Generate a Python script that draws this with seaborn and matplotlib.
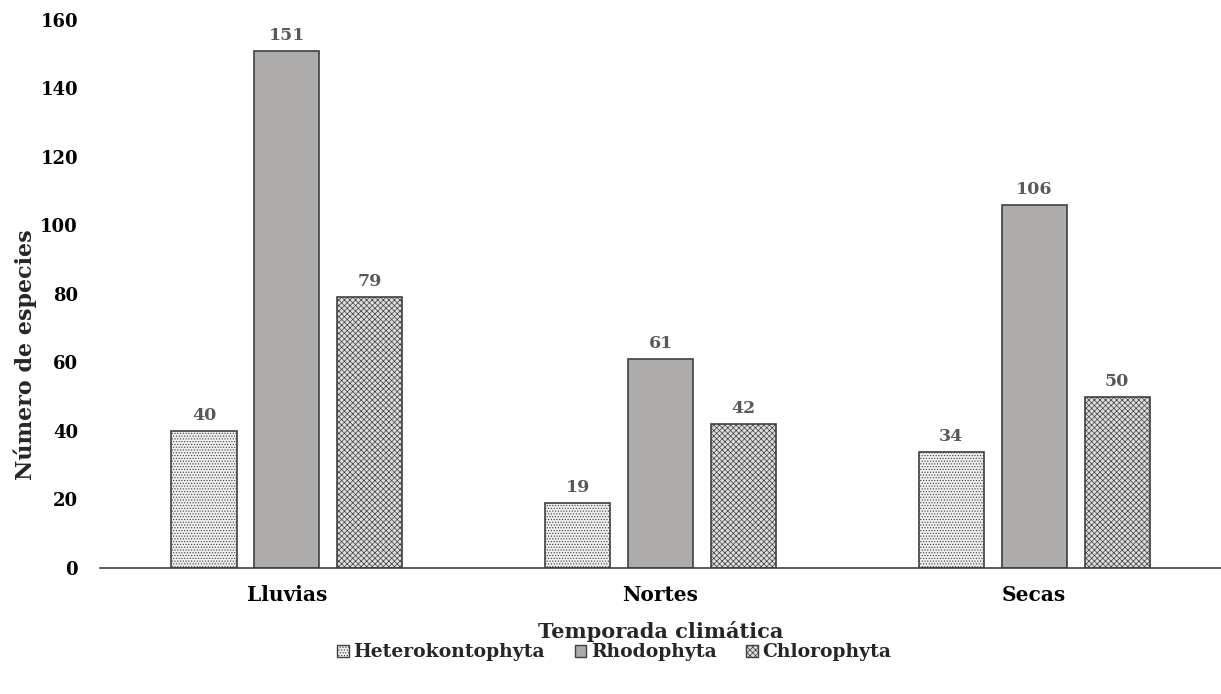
import matplotlib
matplotlib.use("Agg")
import matplotlib.pyplot as plt
import seaborn as sns
import pandas as pd

# Species counts per climatic season and algal division
seasons = ["Lluvias", "Nortes", "Secas"]
divisions = ["Heterokontophyta", "Rhodophyta", "Chlorophyta"]
heterokontophyta = [40, 19, 34]
rhodophyta = [151, 61, 106]
chlorophyta = [79, 42, 50]
y_ticks = [0, 20, 40, 60, 80, 100, 120, 140, 160]

df = pd.DataFrame({
    "Temporada": seasons * 3,
    "División": [d for d in divisions for _ in seasons],
    "Especies": heterokontophyta + rhodophyta + chlorophyta,
})

sns.set_theme(style="white")
plt.rcParams["font.family"] = ["DejaVu Serif"]
plt.rcParams["font.weight"] = "bold"
plt.rcParams["hatch.linewidth"] = 0.5

fills = {"Heterokontophyta": "#eeeeee", "Rhodophyta": "#aeaaaa", "Chlorophyta": "#dddddd"}
hatches = {"Heterokontophyta": "......", "Rhodophyta": "", "Chlorophyta": "xxxxxx"}
hatch_cols = {"Heterokontophyta": "#a8a8a8", "Rhodophyta": "#404040", "Chlorophyta": "#ababab"}

fig = plt.figure(figsize=(12.21, 6.94), dpi=100)
ax = fig.add_axes([0.082, 0.1816, 0.918, 0.7896])

sns.barplot(data=df, x="Temporada", y="Especies", hue="División",
            order=seasons, hue_order=divisions, palette=fills,
            width=0.666, gap=0.216, edgecolor="#404040", linewidth=1.2,
            legend=False, ax=ax)

for cont, div in zip(ax.containers, divisions):
    for bar in cont:
        bar.set_hatch(hatches[div])
        bar._hatch_color = matplotlib.colors.to_rgba(hatch_cols[div])
        bar.set_edgecolor("#404040")
    ax.bar_label(cont, padding=5, fontsize=12.5, fontweight="bold", color="#595959")

ax.set_xlim(-0.5, 2.5)
ax.set_ylim(0, 160)
ax.set_yticks(y_ticks)
ax.set_yticklabels([str(t) for t in y_ticks], fontsize=13, fontweight="bold", color="black")
ax.tick_params(axis="x", length=0, pad=12)
ax.tick_params(axis="y", length=0, pad=16)
for lab in ax.get_xticklabels():
    lab.set_fontsize(14.5)
    lab.set_fontweight("bold")
    lab.set_color("black")

for side in ["left", "right", "top"]:
    ax.spines[side].set_visible(False)
ax.spines["bottom"].set_color("#404040")
ax.spines["bottom"].set_linewidth(1.2)

ax.set_xlabel("Temporada climática", fontsize=15, fontweight="bold", labelpad=12)
ax.set_ylabel("Número de especies", fontsize=16, fontweight="bold")
ax.yaxis.set_label_coords(-0.056, 0.389)

handles = [matplotlib.patches.Patch(facecolor=fills[d], edgecolor="#404040",
                                    hatch=hatches[d], linewidth=1.0) for d in divisions]
fig.legend(handles, divisions, loc="center", bbox_to_anchor=(0.503, 0.060), ncol=3,
           frameon=False, handlelength=0.6, handleheight=0.6, handletextpad=0.25,
           columnspacing=1.6, prop={"size": 13.5, "weight": "bold"})

fig.savefig("out.png", dpi=100)
